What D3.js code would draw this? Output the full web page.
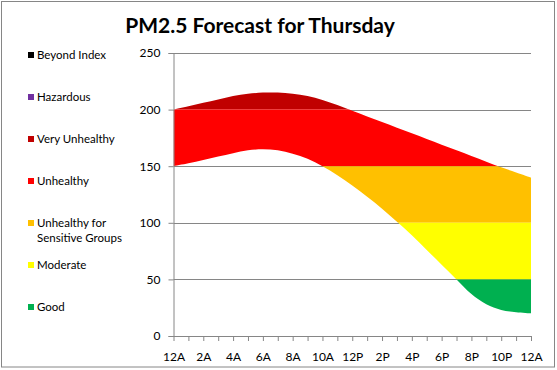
<!DOCTYPE html>
<html>
<head>
<meta charset="utf-8">
<script src="https://cdn.jsdelivr.net/npm/d3@7"></script>
<style>
  body { margin: 0; background: #fff; }
  svg text { font-family: Lato, "Open Sans", sans-serif; }
</style>
</head>
<body>
<svg width="557" height="370"></svg>
<script>
// hours 0..24 (12A to 12A)
const hours = d3.range(0, 25);
const upper = [200, 203, 206, 209, 212, 214, 215, 215, 214, 212, 208.5, 204, 199, 194, 189, 184, 179, 174, 169, 164, 159, 154, 149, 144.5, 140];
const lower = [150, 152.5, 155.5, 158.5, 161.5, 164, 165, 164, 161, 156.5, 150, 142, 133, 123, 112.5, 101, 89, 76, 63, 50, 37, 28, 23, 21, 20];
const xLabels = ['12A', '2A', '4A', '6A', '8A', '10A', '12P', '2P', '4P', '6P', '8P', '10P', '12A'];
const yTicks = [0, 50, 100, 150, 200, 250];

// AQI categories (legend order, top to bottom)
const categories = ['Beyond Index', 'Hazardous', 'Very Unhealthy', 'Unhealthy', 'Unhealthy for Sensitive Groups', 'Moderate', 'Good'];
const catColors = ['#000000', '#7030A0', '#C00000', '#FF0000', '#FFC000', '#FFFF00', '#00B050'];
const catLow = [500, 300, 200, 150, 100, 50, 0];
const catHigh = [1000, 500, 300, 200, 150, 100, 50];

const svg = d3.select('svg');
const margin = { top: 53, right: 26, bottom: 34, left: 173.5 };
const width = 557, height = 370;

const x = d3.scaleLinear().domain([0, 24]).range([margin.left, width - margin.right]);
const y = d3.scaleLinear().domain([0, 250]).range([height - margin.bottom, margin.top]);

// outer chart border
svg.append('rect')
    .attr('x', 1.5).attr('y', 1.5)
    .attr('width', 553).attr('height', 365.5)
    .attr('fill', 'none')
    .attr('stroke', '#868686');

// title
svg.append('text')
    .attr('x', 260)
    .attr('y', 33)
    .attr('text-anchor', 'middle')
    .style('font-size', '21px')
    .style('font-weight', 'bold')
    .text('PM2.5 Forecast for Thursday');

// gridlines
svg.append('g')
    .selectAll('line')
    .data(yTicks.filter(d => d > 0))
    .enter().append('line')
    .attr('x1', x(0)).attr('x2', x(24))
    .attr('y1', d => Math.round(y(d)) + 0.5)
    .attr('y2', d => Math.round(y(d)) + 0.5)
    .attr('stroke', '#868686');

// band between lower and upper, clipped into each category
const data = hours.map((h, i) => ({ h: h, lo: lower[i], hi: upper[i] }));
const area = d3.area()
    .x(d => x(d.h))
    .y0(d => y(d.lo))
    .y1(d => y(d.hi))
    .curve(d3.curveCatmullRom.alpha(0.5));

const defs = svg.append('defs');
categories.forEach((c, i) => {
    const top = y(Math.min(catHigh[i], 250));
    const bot = y(Math.min(catLow[i], 250));
    if (bot <= top) return;
    defs.append('clipPath').attr('id', 'clip' + i)
        .append('rect')
        .attr('x', x(0)).attr('width', x(24) - x(0))
        .attr('y', top).attr('height', bot - top);
    svg.append('path')
        .datum(data)
        .attr('d', area)
        .attr('fill', catColors[i])
        .attr('clip-path', `url(#clip${i})`);
});

// y axis
const yAxis = svg.append('g')
    .attr('transform', `translate(${margin.left},0)`)
    .call(d3.axisLeft(y).tickValues(yTicks).tickSize(5).tickPadding(8));
yAxis.selectAll('path, line').attr('stroke', '#868686');
yAxis.selectAll('text').style('font-size', '12px').attr('fill', '#000');

// x axis: tick every hour, label every two hours
const xAxis = svg.append('g')
    .attr('transform', `translate(0,${y(0)})`)
    .call(d3.axisBottom(x).tickValues(hours).tickSize(5).tickPadding(11)
        .tickFormat(d => d % 2 === 0 ? xLabels[d / 2] : ''));
xAxis.selectAll('path, line').attr('stroke', '#868686');
xAxis.select('.domain').attr('d', `M${x(0)},0.5H${x(24)}`);
xAxis.selectAll('text').style('font-size', '12px').attr('fill', '#000');

// legend
const legend = svg.selectAll('.legend')
    .data(categories)
    .enter().append('g')
    .attr('class', 'legend')
    .attr('transform', (d, i) => `translate(28,${55 + i * 42})`);

legend.append('rect')
    .attr('x', 0).attr('y', -3)
    .attr('width', 6).attr('height', 6)
    .attr('fill', (d, i) => catColors[i]);

legend.append('text')
    .attr('x', 9)
    .attr('dy', '0.35em')
    .style('font-size', '11.5px')
    .each(function (d) {
        const t = d3.select(this);
        if (d === 'Unhealthy for Sensitive Groups') {
            t.append('tspan').attr('x', 9).text('Unhealthy for');
            t.append('tspan').attr('x', 9).attr('dy', '15').text('Sensitive Groups');
        } else {
            t.text(d);
        }
    });
</script>
</body>
</html>
